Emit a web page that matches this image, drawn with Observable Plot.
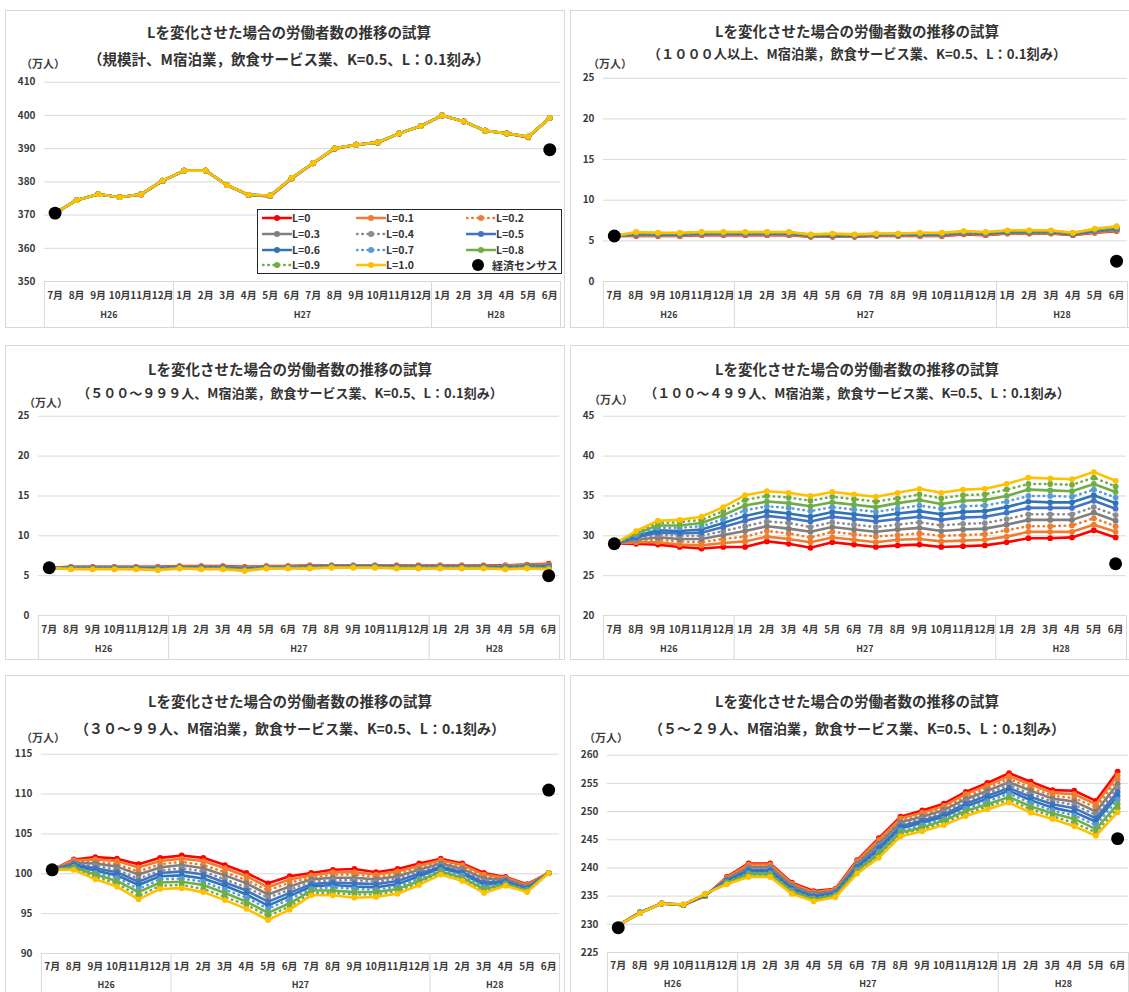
<!DOCTYPE html>
<html><head><meta charset="utf-8">
<script src="https://cdn.jsdelivr.net/npm/d3@7"></script>
<script src="https://cdn.jsdelivr.net/npm/@observablehq/plot@0.6"></script>
<style>
body{margin:0;background:#fff;width:1129px;height:992px;overflow:hidden;position:relative;font-family:"Noto Sans CJK JP","Noto Sans",sans-serif;}
.panel{position:absolute;border:1px solid #d9d9d9;box-sizing:border-box;background:#fff;overflow:hidden}
.panel svg{position:absolute;left:0;top:0}
.t{position:absolute;width:640px;text-align:center;font-weight:bold;font-size:14.5px;line-height:18px;color:#333;white-space:nowrap;z-index:2}
.unit{position:absolute;font-size:11px;font-weight:bold;color:#404040;line-height:14px;z-index:2}
.legend{position:absolute;border:1.3px solid #262626;background:#fff;box-sizing:border-box;z-index:3}
.li{position:absolute;font-size:10.5px;font-weight:bold;color:#333;line-height:14px;white-space:nowrap}
.li svg{position:absolute;left:0;top:0}
</style></head><body>
<script>
// ---- categories ----
const months = ["7月","8月","9月","10月","11月","12月","1月","2月","3月","4月","5月","6月","7月","8月","9月","10月","11月","12月","1月","2月","3月","4月","5月","6月"];
const yearLabels = ["H26","H27","H28"];
const yearStart = [0, 6, 18];
const yearEnd = [5, 17, 23];
const seriesNames = ["L=0","L=0.1","L=0.2","L=0.3","L=0.4","L=0.5","L=0.6","L=0.7","L=0.8","L=0.9","L=1.0"];
const censusName = "経済センサス";
const censusMonths = [0, 23];
const titleMain = "Lを変化させた場合の労働者数の推移の試算";
const sizeClasses = ["規模計","１０００人以上","５００～９９９人","１００～４９９人","３０～９９人","５～２９人"];
const subtitleTail = "、M宿泊業，飲食サービス業、K=0.5、L：0.1刻み）";
const unitLabel = "（万人）";

// ---- tick labels ----
const yTicks1 = [350,360,370,380,390,400,410];
const yTicks2 = [0,5,10,15,20,25];
const yTicks3 = [0,5,10,15,20,25];
const yTicks4 = [20,25,30,35,40,45];
const yTicks5 = [90,95,100,105,110,115];
const yTicks6 = [225,230,235,240,245,250,255,260];

// ---- series values (万人), one row per L = 0, 0.1, ... 1.0 ----
const s1 = [
 [370.6,374.5,376.3,375.4,376.2,380.3,383.4,383.4,379.0,376.0,375.7,381.0,385.6,390.0,391.2,391.8,394.6,396.8,400.0,398.2,395.4,394.6,393.4,399.3],
 [370.6,374.5,376.3,375.4,376.2,380.3,383.4,383.4,379.0,376.0,375.7,381.0,385.6,390.0,391.2,391.8,394.6,396.8,400.0,398.2,395.4,394.6,393.5,399.3],
 [370.6,374.5,376.3,375.4,376.2,380.3,383.4,383.4,379.0,376.0,375.8,381.1,385.6,390.0,391.2,391.8,394.6,396.8,400.0,398.2,395.4,394.6,393.5,399.3],
 [370.6,374.5,376.3,375.4,376.3,380.3,383.4,383.4,379.0,376.1,375.8,381.1,385.6,390.1,391.2,391.9,394.6,396.8,400.0,398.2,395.4,394.6,393.5,399.3],
 [370.6,374.5,376.3,375.4,376.3,380.4,383.4,383.4,379.0,376.1,375.8,381.1,385.7,390.1,391.2,391.9,394.6,396.8,400.0,398.2,395.4,394.6,393.5,399.3],
 [370.6,374.5,376.3,375.4,376.3,380.4,383.4,383.4,379.0,376.1,375.8,381.1,385.7,390.1,391.2,391.9,394.6,396.8,400.0,398.2,395.4,394.6,393.6,399.3],
 [370.6,374.5,376.3,375.4,376.3,380.4,383.4,383.4,379.0,376.1,375.9,381.2,385.7,390.1,391.2,391.9,394.6,396.8,400.0,398.2,395.4,394.6,393.6,399.3],
 [370.6,374.5,376.3,375.4,376.3,380.4,383.4,383.4,379.0,376.1,375.9,381.2,385.7,390.1,391.2,391.9,394.6,396.8,400.0,398.2,395.4,394.6,393.6,399.3],
 [370.6,374.5,376.3,375.4,376.3,380.4,383.4,383.4,379.0,376.1,375.9,381.2,385.7,390.1,391.2,391.9,394.6,396.8,400.0,398.2,395.4,394.6,393.6,399.3],
 [370.6,374.5,376.3,375.4,376.3,380.4,383.4,383.4,379.0,376.1,375.9,381.2,385.7,390.1,391.2,391.9,394.6,396.8,400.0,398.2,395.4,394.6,393.6,399.3],
 [370.6,374.5,376.3,375.4,376.3,380.4,383.4,383.4,379.0,376.1,375.9,381.2,385.7,390.1,391.2,391.9,394.6,396.8,400.0,398.2,395.4,394.6,393.6,399.3]
];
const census1 = [370.6, 389.7];

const s2 = [
 [5.6,5.6,5.6,5.6,5.7,5.7,5.7,5.7,5.7,5.5,5.5,5.5,5.6,5.6,5.6,5.6,5.8,5.7,5.9,5.9,5.9,5.7,6.0,6.2],
 [5.6,5.65,5.64,5.64,5.74,5.74,5.74,5.74,5.74,5.53,5.54,5.53,5.63,5.63,5.64,5.64,5.84,5.74,5.94,5.94,5.94,5.73,6.05,6.26],
 [5.6,5.7,5.68,5.68,5.78,5.78,5.78,5.78,5.78,5.56,5.58,5.56,5.66,5.66,5.68,5.68,5.88,5.78,5.98,5.98,5.98,5.76,6.1,6.32],
 [5.6,5.75,5.72,5.72,5.82,5.82,5.82,5.82,5.82,5.59,5.62,5.59,5.69,5.69,5.72,5.72,5.92,5.82,6.02,6.02,6.02,5.79,6.15,6.38],
 [5.6,5.8,5.76,5.76,5.86,5.86,5.86,5.86,5.86,5.62,5.66,5.62,5.72,5.72,5.76,5.76,5.96,5.86,6.06,6.06,6.06,5.82,6.2,6.44],
 [5.6,5.85,5.8,5.8,5.9,5.9,5.9,5.9,5.9,5.65,5.7,5.65,5.75,5.75,5.8,5.8,6.0,5.9,6.1,6.1,6.1,5.85,6.25,6.5],
 [5.6,5.9,5.84,5.84,5.94,5.94,5.94,5.94,5.94,5.68,5.74,5.68,5.78,5.78,5.84,5.84,6.04,5.94,6.14,6.14,6.14,5.88,6.3,6.56],
 [5.6,5.95,5.88,5.88,5.98,5.98,5.98,5.98,5.98,5.71,5.78,5.71,5.81,5.81,5.88,5.88,6.08,5.98,6.18,6.18,6.18,5.91,6.35,6.62],
 [5.6,6.0,5.92,5.92,6.02,6.02,6.02,6.02,6.02,5.74,5.82,5.74,5.84,5.84,5.92,5.92,6.12,6.02,6.22,6.22,6.22,5.94,6.4,6.68],
 [5.6,6.05,5.96,5.96,6.06,6.06,6.06,6.06,6.06,5.77,5.86,5.77,5.87,5.87,5.96,5.96,6.16,6.06,6.26,6.26,6.26,5.97,6.45,6.74],
 [5.6,6.1,6.0,6.0,6.1,6.1,6.1,6.1,6.1,5.8,5.9,5.8,5.9,5.9,6.0,6.0,6.2,6.1,6.3,6.3,6.3,6.0,6.5,6.8]
];
const census2 = [5.6, 2.5];

const s3 = [
 [6.0,6.1,6.1,6.1,6.1,6.1,6.2,6.2,6.2,6.1,6.2,6.2,6.3,6.3,6.3,6.3,6.3,6.3,6.3,6.3,6.3,6.3,6.4,6.5],
 [6.0,6.07,6.07,6.07,6.07,6.06,6.17,6.16,6.16,6.05,6.17,6.17,6.26,6.27,6.27,6.27,6.26,6.26,6.26,6.26,6.26,6.25,6.35,6.43],
 [6.0,6.04,6.04,6.04,6.04,6.02,6.14,6.12,6.12,6.0,6.14,6.14,6.22,6.24,6.24,6.24,6.22,6.22,6.22,6.22,6.22,6.2,6.3,6.36],
 [6.0,6.01,6.01,6.01,6.01,5.98,6.11,6.08,6.08,5.95,6.11,6.11,6.18,6.21,6.21,6.21,6.18,6.18,6.18,6.18,6.18,6.15,6.25,6.29],
 [6.0,5.98,5.98,5.98,5.98,5.94,6.08,6.04,6.04,5.9,6.08,6.08,6.14,6.18,6.18,6.18,6.14,6.14,6.14,6.14,6.14,6.1,6.2,6.22],
 [6.0,5.95,5.95,5.95,5.95,5.9,6.05,6.0,6.0,5.85,6.05,6.05,6.1,6.15,6.15,6.15,6.1,6.1,6.1,6.1,6.1,6.05,6.15,6.15],
 [6.0,5.92,5.92,5.92,5.92,5.86,6.02,5.96,5.96,5.8,6.02,6.02,6.06,6.12,6.12,6.12,6.06,6.06,6.06,6.06,6.06,6.0,6.1,6.08],
 [6.0,5.89,5.89,5.89,5.89,5.82,5.99,5.92,5.92,5.75,5.99,5.99,6.02,6.09,6.09,6.09,6.02,6.02,6.02,6.02,6.02,5.95,6.05,6.01],
 [6.0,5.86,5.86,5.86,5.86,5.78,5.96,5.88,5.88,5.7,5.96,5.96,5.98,6.06,6.06,6.06,5.98,5.98,5.98,5.98,5.98,5.9,6.0,5.94],
 [6.0,5.83,5.83,5.83,5.83,5.74,5.93,5.84,5.84,5.65,5.93,5.93,5.94,6.03,6.03,6.03,5.94,5.94,5.94,5.94,5.94,5.85,5.95,5.87],
 [6.0,5.8,5.8,5.8,5.8,5.7,5.9,5.8,5.8,5.6,5.9,5.9,5.9,6.0,6.0,6.0,5.9,5.9,5.9,5.9,5.9,5.8,5.9,5.8]
];
const census3 = [6.0, 5.0];

const s4 = [
 [29.0,29.0,28.9,28.6,28.4,28.6,28.6,29.3,29.0,28.5,29.2,28.9,28.6,28.8,28.9,28.6,28.7,28.8,29.2,29.7,29.7,29.8,30.7,29.8],
 [29.0,29.2,29.2,28.9,28.8,29.1,29.3,29.9,29.6,29.2,29.8,29.5,29.2,29.5,29.6,29.3,29.4,29.5,29.9,30.5,30.5,30.5,31.4,30.5],
 [29.0,29.3,29.5,29.3,29.2,29.6,29.9,30.6,30.3,29.8,30.5,30.2,29.9,30.1,30.3,30.0,30.1,30.2,30.7,31.2,31.2,31.3,32.2,31.2],
 [29.0,29.5,29.8,29.6,29.6,30.1,30.6,31.2,30.9,30.5,31.1,30.8,30.5,30.8,31.0,30.6,30.8,30.9,31.4,32.0,32.0,32.0,32.9,31.9],
 [29.0,29.6,30.1,30.0,30.0,30.6,31.2,31.8,31.6,31.1,31.7,31.4,31.1,31.4,31.7,31.3,31.5,31.6,32.1,32.7,32.7,32.7,33.6,32.6],
 [29.0,29.8,30.4,30.3,30.4,31.1,31.9,32.5,32.2,31.8,32.4,32.1,31.8,32.1,32.4,32.0,32.3,32.4,32.9,33.5,33.5,33.5,34.4,33.4],
 [29.0,30.0,30.7,30.6,30.8,31.6,32.5,33.1,32.8,32.4,33.0,32.7,32.4,32.8,33.1,32.7,33.0,33.1,33.6,34.3,34.2,34.2,35.1,34.1],
 [29.0,30.1,31.0,31.0,31.2,32.1,33.2,33.7,33.5,33.1,33.6,33.3,33.0,33.4,33.8,33.4,33.7,33.8,34.3,35.0,35.0,34.9,35.8,34.8],
 [29.0,30.3,31.3,31.3,31.6,32.6,33.8,34.3,34.1,33.7,34.2,33.9,33.6,34.1,34.5,34.0,34.4,34.5,35.0,35.8,35.7,35.6,36.5,35.5],
 [29.0,30.4,31.6,31.7,32.0,33.1,34.5,35.0,34.8,34.4,34.9,34.6,34.3,34.7,35.2,34.7,35.1,35.2,35.8,36.5,36.5,36.4,37.3,36.2],
 [29.0,30.6,31.9,32.0,32.4,33.6,35.1,35.6,35.4,35.0,35.5,35.2,34.9,35.4,35.9,35.4,35.8,35.9,36.5,37.3,37.2,37.1,38.0,36.9]
];
const census4 = [29.0, 26.5];

const s5 = [
 [100.5,101.8,102.1,101.9,101.2,102.0,102.3,102.0,101.1,100.1,98.8,99.7,100.1,100.5,100.6,100.2,100.6,101.3,101.9,101.3,100.1,99.6,98.7,100.1],
 [100.5,101.7,101.8,101.6,100.8,101.6,101.9,101.6,100.7,99.7,98.3,99.3,99.8,100.2,100.2,99.9,100.3,101.0,101.7,101.1,99.9,99.5,98.6,100.1],
 [100.5,101.5,101.5,101.2,100.3,101.2,101.5,101.1,100.2,99.2,97.9,98.9,99.5,99.9,99.9,99.6,100.0,100.8,101.5,100.9,99.6,99.4,98.5,100.1],
 [100.5,101.4,101.3,100.9,99.9,100.8,101.1,100.7,99.8,98.8,97.4,98.4,99.3,99.5,99.5,99.3,99.7,100.5,101.3,100.6,99.4,99.3,98.4,100.1],
 [100.5,101.3,101.0,100.5,99.4,100.4,100.7,100.3,99.3,98.3,97.0,98.0,99.0,99.2,99.2,99.0,99.4,100.2,101.1,100.4,99.1,99.2,98.3,100.1],
 [100.5,101.2,100.7,100.2,99.0,100.1,100.3,99.9,98.9,97.9,96.5,97.6,98.7,98.9,98.8,98.7,99.1,100.0,100.9,100.2,98.9,99.1,98.2,100.1],
 [100.5,101.0,100.4,99.8,98.6,99.7,99.8,99.4,98.5,97.4,96.0,97.2,98.4,98.6,98.4,98.3,98.7,99.7,100.7,100.0,98.6,98.9,98.1,100.1],
 [100.5,100.9,100.1,99.5,98.1,99.3,99.4,99.0,98.0,97.0,95.6,96.8,98.1,98.3,98.1,98.0,98.4,99.4,100.5,99.8,98.4,98.8,98.0,100.1],
 [100.5,100.8,99.9,99.1,97.7,98.9,99.0,98.6,97.6,96.5,95.1,96.3,97.9,97.9,97.7,97.7,98.1,99.1,100.3,99.5,98.1,98.7,97.9,100.1],
 [100.5,100.6,99.6,98.8,97.2,98.5,98.6,98.1,97.1,96.1,94.7,95.9,97.6,97.6,97.4,97.4,97.8,98.9,100.1,99.3,97.9,98.6,97.8,100.1],
 [100.5,100.5,99.3,98.4,96.8,98.1,98.2,97.7,96.7,95.6,94.2,95.5,97.3,97.3,97.0,97.1,97.5,98.6,99.9,99.1,97.6,98.5,97.7,100.1]
];
const census5 = [100.5, 110.5];

const s6 = [
 [229.8,232.1,233.7,233.4,235.0,238.4,240.8,240.8,237.4,235.9,236.3,241.4,245.3,249.1,250.2,251.4,253.5,255.1,256.8,255.3,253.8,253.7,251.9,257.1],
 [229.8,232.1,233.7,233.4,235.0,238.3,240.6,240.6,237.2,235.7,236.2,241.2,245.0,248.8,249.8,251.0,253.1,254.6,256.3,254.8,253.3,253.1,251.3,256.4],
 [229.8,232.1,233.7,233.4,235.1,238.1,240.3,240.3,237.0,235.5,236.0,240.9,244.6,248.4,249.5,250.6,252.6,254.2,255.8,254.2,252.8,252.4,250.7,255.7],
 [229.8,232.1,233.7,233.4,235.1,238.0,240.1,240.1,236.8,235.4,235.9,240.7,244.3,248.1,249.1,250.3,252.2,253.7,255.2,253.7,252.3,251.8,250.0,254.9],
 [229.8,232.1,233.7,233.4,235.2,237.9,239.8,239.8,236.6,235.2,235.7,240.4,243.9,247.7,248.7,249.9,251.8,253.2,254.7,253.1,251.8,251.2,249.4,254.2],
 [229.8,232.1,233.7,233.5,235.2,237.8,239.6,239.6,236.4,235.0,235.6,240.2,243.6,247.4,248.4,249.5,251.4,252.8,254.2,252.6,251.3,250.6,248.8,253.5],
 [229.8,232.0,233.7,233.5,235.2,237.6,239.4,239.4,236.2,234.8,235.4,240.0,243.2,247.0,248.0,249.1,250.9,252.3,253.7,252.0,250.7,249.9,248.2,252.8],
 [229.8,232.0,233.7,233.5,235.3,237.5,239.1,239.1,236.0,234.6,235.3,239.7,242.9,246.7,247.6,248.7,250.5,251.8,253.2,251.5,250.2,249.3,247.6,252.1],
 [229.8,232.0,233.7,233.5,235.3,237.4,238.9,238.9,235.8,234.5,235.1,239.5,242.5,246.3,247.2,248.4,250.1,251.3,252.6,250.9,249.7,248.7,246.9,251.3],
 [229.8,232.0,233.7,233.5,235.4,237.2,238.6,238.6,235.6,234.3,235.0,239.2,242.2,246.0,246.9,248.0,249.6,250.9,252.1,250.4,249.2,248.0,246.3,250.6],
 [229.8,232.0,233.7,233.5,235.4,237.1,238.4,238.4,235.4,234.1,234.8,239.0,241.8,245.6,246.5,247.6,249.2,250.4,251.6,249.8,248.7,247.4,245.7,249.9]
];
const census6 = [229.4, 245.2];

// ---- styles (not data) ----
const seriesColors = ["#FF0000","#ED7D31","#ED7D31","#7F7F7F","#8C8C8C","#4472C4","#2E75B6","#5B9BD5","#70AD47","#70AD47","#FFC000"];
const seriesDotted = [false,false,true,false,true,false,false,true,false,true,false];
const FONT = '"Noto Sans CJK JP","Noto Sans",sans-serif';
const TXT = "#3a3a3a";

// layout: box [left, top, width, height], margins [top, bottom, left, right], title line centers, subtitle font size, unit pos, label offsets
const layouts = [
 {box:[5,10,560,318],  m:[71,47,38,4], t1:21, t2:48, tx:283, fs2:14.5, unit:[15,52], md:10, yd:37},
 {box:[570,10,562,318],m:[67,47,32,4], t1:20, t2:43, tx:286, fs2:13.2, unit:[17,52], md:10, yd:37},
 {box:[5,345,560,315], m:[70,45,32,5], t1:23, t2:47, tx:284, fs2:13,   unit:[18,56], md:10, yd:37},
 {box:[570,345,562,315],m:[70,45,32,5],t1:23, t2:47, tx:286, fs2:13,   unit:[18,53], md:10, yd:37},
 {box:[5,675,560,322], m:[78,44,35,5], t1:25, t2:52, tx:284, fs2:14,   unit:[15,61], md:9,  yd:35},
 {box:[570,675,562,322],m:[79,45,36,3],t1:25, t2:52, tx:286, fs2:14,   unit:[13,61], md:9,  yd:35}
];
const panelData = [
 {data:s1, census:census1, ticks:yTicks1},
 {data:s2, census:census2, ticks:yTicks2},
 {data:s3, census:census3, ticks:yTicks3},
 {data:s4, census:census4, ticks:yTicks4},
 {data:s5, census:census5, ticks:yTicks5},
 {data:s6, census:census6, ticks:yTicks6}
];

function el(tag, cls, parent){const e=document.createElement(tag); if(cls) e.className=cls; parent.appendChild(e); return e;}

panelData.forEach((pd, pi) => {
  const L = layouts[pi];
  const [left, top, w, h] = L.box;
  const [mt, mb, ml, mr] = L.m;
  const div = el("div","panel",document.body);
  Object.assign(div.style,{left:left+"px",top:top+"px",width:w+"px",height:h+"px"});
  const t1 = el("div","t",div); t1.textContent = titleMain;
  Object.assign(t1.style,{left:(L.tx-320)+"px",top:(L.t1-9)+"px"});
  const t2 = el("div","t",div); t2.textContent = "（" + sizeClasses[pi] + subtitleTail;
  Object.assign(t2.style,{left:(L.tx-320)+"px",top:(L.t2-9)+"px",fontSize:L.fs2+"px"});
  const u = el("div","unit",div); u.textContent = unitLabel;
  Object.assign(u.style,{left:L.unit[0]+"px",top:(L.unit[1]-7)+"px"});

  const rows = [];
  pd.data.forEach((vals, si) => vals.forEach((v, mi) => rows.push({s: si, x: mi, y: v})));
  const censusRows = censusMonths.map((m, i) => ({x: m, y: pd.census[i]}));
  const seps = [...yearStart.map(s => s - 0.5), yearEnd[yearEnd.length-1] + 0.5];
  const yearRows = yearLabels.map((l, i) => ({label: l, x: (yearStart[i] + yearEnd[i]) / 2}));
  const frameH = h - mt - mb;
  const marks = [
    Plot.gridY(pd.ticks, {stroke:"#d9d9d9", strokeOpacity:1, strokeWidth:1}),
    Plot.ruleX(seps, {x: d => d, insetTop: frameH, insetBottom: -mb, stroke:"#d9d9d9", strokeWidth:1}),
    Plot.axisY(pd.ticks, {tickSize:0, tickPadding:9, label:null, fontWeight:"bold", fontSize:10, fill:TXT}),
    Plot.axisX(d3.range(months.length), {tickSize:0, tickPadding:L.md, tickFormat: i => months[i], label:null, fontWeight:"bold", fontSize:10, fill:TXT}),
    Plot.text(yearRows, {x:"x", text:"label", frameAnchor:"bottom", dy:L.yd, fontWeight:"bold", fontSize:9, fill:TXT})
  ];
  seriesNames.forEach((name, si) => {
    const d = rows.filter(r => r.s === si);
    const lineOpts = {x:"x", y:"y", stroke: seriesColors[si], strokeWidth: 2.6, strokeLinecap:"round", strokeLinejoin:"round"};
    if (seriesDotted[si]) lineOpts.strokeDasharray = "0.5,4.8";
    marks.push(Plot.line(d, lineOpts));
    marks.push(Plot.dot(d, {x:"x", y:"y", r:2.9, fill: seriesColors[si], stroke:"none"}));
  });
  marks.push(Plot.dot(censusRows, {x:"x", y:"y", r:6.5, fill:"#000", stroke:"none"}));

  const yMin = pd.ticks[0], yMax = pd.ticks[pd.ticks.length-1];
  const svg = Plot.plot({
    width: w, height: h,
    marginTop: mt, marginBottom: mb, marginLeft: ml, marginRight: mr,
    x: {type:"linear", domain:[-0.5, months.length - 0.5]},
    y: {domain:[yMin, yMax]},
    style: {fontFamily: FONT, background:"transparent", overflow:"visible"},
    marks
  });
  div.appendChild(svg);

  if (pi === 0) {
    const lg = el("div","legend",div);
    Object.assign(lg.style,{left:"251px",top:"198px",width:"305px",height:"65px"});
    const colX = [4, 98, 208];
    const rowY = [1, 17, 33, 48];
    const items = seriesNames.map((n, i) => ({name:n, color:seriesColors[i], dotted:seriesDotted[i], census:false}));
    items.push({name:censusName, census:true});
    items.forEach((it, i) => {
      const r = Math.floor(i/3), c = i % 3;
      const li = el("div","li",lg);
      Object.assign(li.style,{left:colX[c]+"px",top:rowY[r]+"px",width:"92px",height:"14px"});
      const ns = "http://www.w3.org/2000/svg";
      const s = document.createElementNS(ns,"svg");
      s.setAttribute("width","30"); s.setAttribute("height","14");
      if (it.census) {
        const ci = document.createElementNS(ns,"circle");
        ci.setAttribute("cx","12"); ci.setAttribute("cy","7"); ci.setAttribute("r","6"); ci.setAttribute("fill","#000");
        s.appendChild(ci);
      } else {
        const ln = document.createElementNS(ns,"line");
        ln.setAttribute("x1","1"); ln.setAttribute("x2","29"); ln.setAttribute("y1","7"); ln.setAttribute("y2","7");
        ln.setAttribute("stroke",it.color); ln.setAttribute("stroke-width","2.6"); ln.setAttribute("stroke-linecap","round");
        if (it.dotted) ln.setAttribute("stroke-dasharray","0.5,4.8");
        s.appendChild(ln);
        const ci = document.createElementNS(ns,"circle");
        ci.setAttribute("cx","15"); ci.setAttribute("cy","7"); ci.setAttribute("r","3"); ci.setAttribute("fill",it.color);
        s.appendChild(ci);
      }
      li.appendChild(s);
      const sp = el("span",null,li); sp.textContent = it.name;
      sp.style.position="absolute"; sp.style.left = it.census ? "26px" : "30px"; sp.style.top="0px";
      if (it.census) sp.style.fontSize = "11px";
    });
  }
});
</script>
</body></html>
